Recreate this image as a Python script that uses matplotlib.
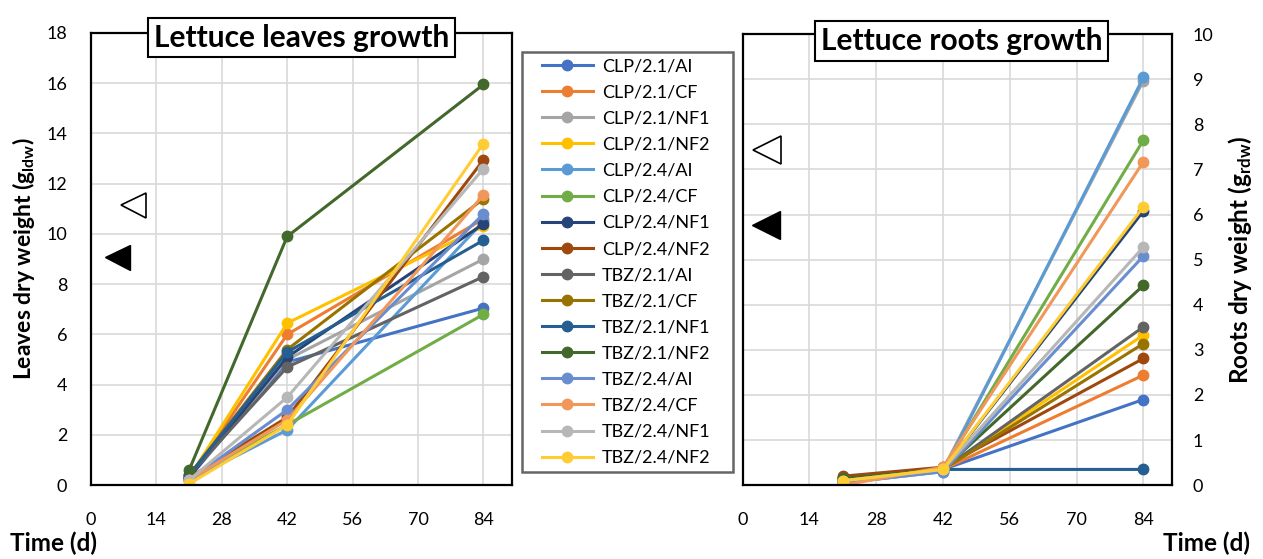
import matplotlib.pyplot as plt
from matplotlib.legend_handler import HandlerLine2D
import numpy as np

plt.rcParams['font.family'] = ['Lato', 'DejaVu Sans']

days = [21, 42, 84]

series_names = ['CLP/2.1/AI', 'CLP/2.1/CF', 'CLP/2.1/NF1', 'CLP/2.1/NF2',
                'CLP/2.4/AI', 'CLP/2.4/CF', 'CLP/2.4/NF1', 'CLP/2.4/NF2',
                'TBZ/2.1/AI', 'TBZ/2.1/CF', 'TBZ/2.1/NF1', 'TBZ/2.1/NF2',
                'TBZ/2.4/AI', 'TBZ/2.4/CF', 'TBZ/2.4/NF1', 'TBZ/2.4/NF2']

colors = ['#4472C4', '#ED7D31', '#A5A5A5', '#FFC000',
          '#5B9BD5', '#70AD47', '#264478', '#9E480E',
          '#636363', '#997300', '#255E91', '#43682B',
          '#698ED0', '#F1975A', '#B7B7B7', '#FFCD33']

# leaves dry weight (g)
leaves = [
    [0.3, 4.9, 7.05],
    [0.3, 6.0, 10.6],
    [0.3, 5.0, 9.0],
    [0.3, 6.45, 10.3],
    [0.2, 2.2, 10.5],
    [0.3, 2.4, 6.8],
    [0.3, 5.1, 10.4],
    [0.3, 2.7, 12.95],
    [0.4, 4.7, 8.3],
    [0.4, 5.4, 11.4],
    [0.4, 5.3, 9.75],
    [0.6, 9.9, 15.95],
    [0.2, 3.0, 10.8],
    [0.2, 2.6, 11.55],
    [0.2, 3.5, 12.6],
    [0.05, 2.4, 13.6],
]

# roots dry weight (g)
roots = [
    [0.1, 0.35, 1.9],
    [0.15, 0.35, 2.44],
    [0.1, 0.35, 8.97],
    [0.1, 0.35, 3.33],
    [0.05, 0.3, 9.04],
    [0.1, 0.35, 7.65],
    [0.1, 0.35, 6.08],
    [0.2, 0.4, 2.81],
    [0.15, 0.35, 3.51],
    [0.15, 0.35, 3.14],
    [0.1, 0.35, 0.35],
    [0.15, 0.35, 4.43],
    [0.05, 0.3, 5.08],
    [0.0, 0.4, 7.17],
    [0.1, 0.35, 5.28],
    [0.1, 0.35, 6.17],
]

# triangle markers drawn inside the plots (day, value)
leaves_open_tri = (9, 11.15)
leaves_filled_tri = (5.6, 9.1)
roots_open_tri = (5.2, 7.43)
roots_filled_tri = (4.9, 5.76)

fig = plt.figure(figsize=(12.63, 5.59), dpi=100)
ax1 = fig.add_axes([0.072, 0.132, 0.333, 0.809])
ax2 = fig.add_axes([0.588, 0.132, 0.340, 0.807])


def style_axes(ax, ymax, ystep, right=False):
    ax.set_xlim(0, 90)
    ax.set_ylim(0, ymax)
    ax.set_xticks(np.arange(0, 85, 14))
    ax.set_yticks(np.arange(0, ymax + 0.1, ystep))
    ax.grid(True, color='#D9D9D9', linewidth=1.2)
    ax.set_axisbelow(True)
    for s in ax.spines.values():
        s.set_linewidth(1.6)
        s.set_color('black')
    ax.tick_params(axis='x', length=0, pad=19, labelsize=13)
    ax.tick_params(axis='y', length=0, pad=17 if not right else 15, labelsize=13)
    if right:
        ax.yaxis.tick_right()
        ax.yaxis.set_label_position('right')


handles = []
for name, c, lv, rt in zip(series_names, colors, leaves, roots):
    h, = ax1.plot(days, lv, color=c, lw=2.2, marker='o', ms=7.5, label=name)
    ax2.plot(days, rt, color=c, lw=2.2, marker='o', ms=7.5)
    handles.append(h)

style_axes(ax1, 18, 2)
style_axes(ax2, 10, 1, right=True)

ax1.plot(*leaves_open_tri, marker='<', ms=18, mfc='white', mec='black', mew=1.2)
ax1.plot(*leaves_filled_tri, marker='<', ms=18, mfc='black', mec='black')
ax2.plot(*roots_open_tri, marker='<', ms=20, mfc='white', mec='black', mew=1.2)
ax2.plot(*roots_filled_tri, marker='<', ms=20, mfc='black', mec='black')

box = dict(boxstyle='square,pad=0.2', facecolor='white', edgecolor='black', linewidth=1.5)
ax1.text(0.5, 0.99, 'Lettuce leaves growth', transform=ax1.transAxes, ha='center',
         va='center', fontsize=21.5, fontweight='bold', bbox=box)
ax2.text(0.51, 0.985, 'Lettuce roots growth', transform=ax2.transAxes, ha='center',
         va='center', fontsize=21.5, fontweight='bold', bbox=box)

ax1.set_ylabel(r'Leaves dry weight ($\mathregular{g_{ldw}}$)', fontsize=16.5,
               fontweight='bold', labelpad=7)
ax2.set_ylabel(r'Roots dry weight ($\mathregular{g_{rdw}}$)', fontsize=17.5,
               fontweight='bold', labelpad=9)

fig.text(0.008, 0.028, 'Time (d)', fontsize=17.5, fontweight='bold', ha='left', va='center')
fig.text(0.99, 0.028, 'Time (d)', fontsize=17.5, fontweight='bold', ha='right', va='center')

leg = fig.legend(handles=handles, loc='upper left',
                 bbox_to_anchor=(0.4133, 0.0, 0.167, 0.907), mode='expand',
                 borderaxespad=0, fontsize=13, frameon=True, fancybox=False,
                 edgecolor='#404040', handlelength=3.57, labelspacing=0.56,
                 borderpad=0.35, handletextpad=0.5,
                 handler_map={h: HandlerLine2D(xpad=0.75) for h in handles})
leg.get_frame().set_linewidth(1.8)

fig.savefig('out.png', dpi=100)
